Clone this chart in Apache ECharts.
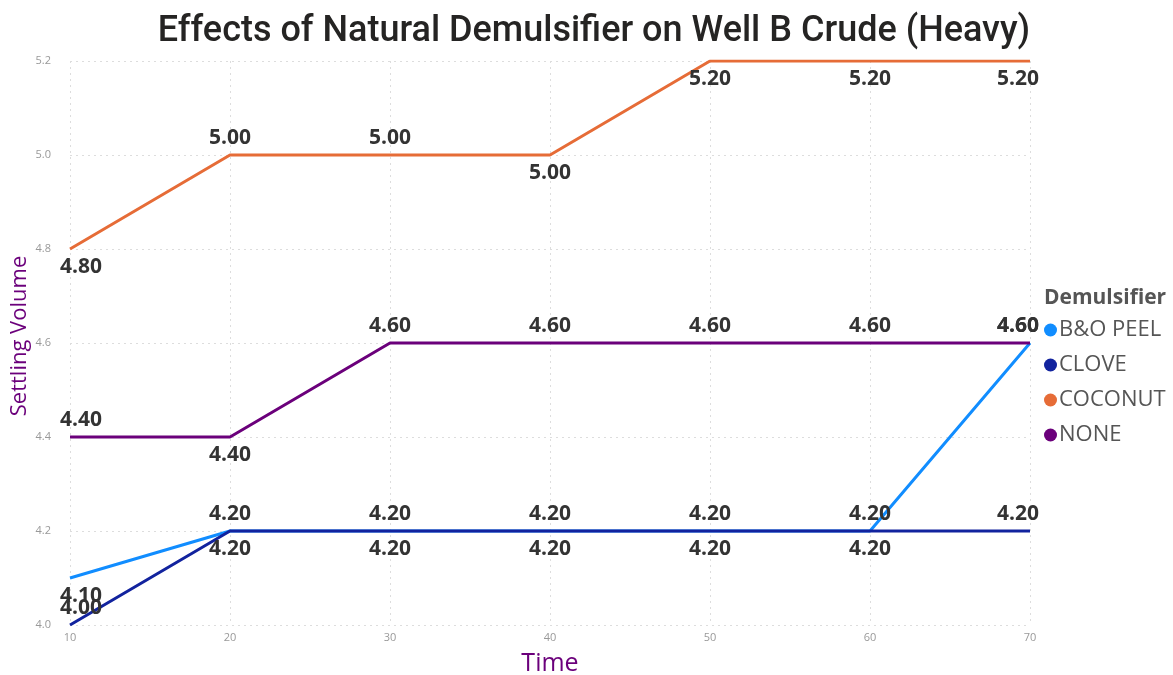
<!DOCTYPE html>
<html>
<head>
<meta charset="utf-8">
<script src="https://cdn.jsdelivr.net/npm/echarts@6/dist/echarts.min.js"></script>
<style>
  html, body { margin: 0; padding: 0; background: #fff; overflow: hidden; }
  #chart { width: 1173px; height: 675px; }
</style>
</head>
<body>
<div id="chart"></div>
<script>
// Settling volume readings over time for each demulsifier
const times = [10, 20, 30, 40, 50, 60, 70];
const boPeel = [4.1, 4.2, 4.2, 4.2, 4.2, 4.2, 4.6];
const clove = [4.0, 4.2, 4.2, 4.2, 4.2, 4.2, 4.2];
const coconut = [4.8, 5.0, 5.0, 5.0, 5.2, 5.2, 5.2];
const none = [4.4, 4.4, 4.6, 4.6, 4.6, 4.6, 4.6];
const yTicks = [4.0, 4.2, 4.4, 4.6, 4.8, 5.0, 5.2];

// Which side of the line each value label sits on
const labelSides = {
  'B&O PEEL': ['bottom', 'top', 'top', 'top', 'top', 'top', 'top'],
  'CLOVE': ['top', 'bottom', 'bottom', 'bottom', 'bottom', 'bottom', 'top'],
  'COCONUT': ['bottom', 'top', 'top', 'bottom', 'bottom', 'bottom', 'bottom'],
  'NONE': ['top', 'bottom', 'top', 'top', 'top', 'top', 'top']
};

const colors = {
  'B&O PEEL': '#118DFF',
  'CLOVE': '#12239E',
  'COCONUT': '#E66C37',
  'NONE': '#6B007B'
};

function buildSeries(name, values) {
  const sides = labelSides[name];
  return {
    name: name,
    type: 'line',
    symbol: 'circle',
    symbolSize: 0,
    showSymbol: true,
    lineStyle: { width: 3, color: colors[name] },
    itemStyle: { color: colors[name] },
    z: name === 'CLOVE' ? 3 : 2,
    data: values.map((v, i) => {
      let dx = 0;
      if (i === 0) dx = 11;
      if (i === values.length - 1) dx = -12;
      const side = sides[i];
      return {
        value: [times[i], v],
        label: { position: side, distance: side === 'bottom' ? 8 : 6, offset: [dx, 0] }
      };
    }),
    label: {
      show: true,
      formatter: p => p.value[1].toFixed(2),
      fontFamily: 'Open Sans',
      fontWeight: 'bold',
      fontSize: 21,
      color: '#333333'
    }
  };
}

const chart = echarts.init(document.getElementById('chart'));
chart.setOption({
  animation: false,
  title: [{
    text: 'Effects of Natural Demulsifier on Well B Crude (Heavy)',
    left: 589,
    textAlign: 'center',
    top: 9,
    textStyle: {
      fontFamily: 'Roboto',
      fontWeight: 500,
      fontSize: 36,
      color: '#252423'
    }
  }, {
    text: 'Demulsifier',
    left: 1039,
    top: 283,
    textStyle: {
      fontFamily: 'Open Sans',
      fontWeight: 'bold',
      fontSize: 21,
      color: '#555555'
    }
  }],
  legend: {
    orient: 'vertical',
    left: 1039,
    top: 314,
    icon: 'circle',
    itemWidth: 13,
    itemHeight: 13,
    itemGap: 13,
    textStyle: {
      fontFamily: 'Open Sans',
      fontSize: 22,
      color: '#555555',
      padding: [0, 0, 0, -3]
    },
    data: ['B&O PEEL', 'CLOVE', 'COCONUT', 'NONE']
  },
  grid: {
    left: 70,
    top: 61,
    width: 960,
    height: 564,
    containLabel: false,
    outerBoundsMode: 'none'
  },
  xAxis: {
    type: 'value',
    min: 10,
    max: 70,
    interval: 10,
    name: 'Time',
    nameLocation: 'middle',
    nameGap: 26,
    nameMoveOverlap: false,
    nameTextStyle: { fontFamily: 'Open Sans', fontSize: 25, color: '#6B007B' },
    axisLine: { show: false },
    axisTick: { show: false },
    axisLabel: { fontFamily: 'Open Sans', fontSize: 11, color: '#999999', margin: 7 },
    splitLine: { show: true, lineStyle: { type: [2, 4], color: '#dddddd', width: 1 } }
  },
  yAxis: {
    type: 'value',
    min: yTicks[0],
    max: yTicks[yTicks.length - 1],
    interval: 0.2,
    name: 'Settling Volume',
    nameLocation: 'middle',
    nameGap: 39,
    nameMoveOverlap: false,
    nameTextStyle: {
      fontFamily: 'Open Sans',
      fontSize: 22,
      color: '#6B007B',
      padding: [0, 0, 0, 14]
    },
    axisLine: { show: false },
    axisTick: { show: false },
    axisLabel: {
      fontFamily: 'Open Sans',
      fontSize: 11,
      color: '#999999',
      margin: 19,
      formatter: v => v.toFixed(1)
    },
    splitLine: { show: true, lineStyle: { type: [2, 4], color: '#dddddd', width: 1 } }
  },
  series: [
    buildSeries('B&O PEEL', boPeel),
    buildSeries('CLOVE', clove),
    buildSeries('COCONUT', coconut),
    buildSeries('NONE', none)
  ]
});
</script>
</body>
</html>
